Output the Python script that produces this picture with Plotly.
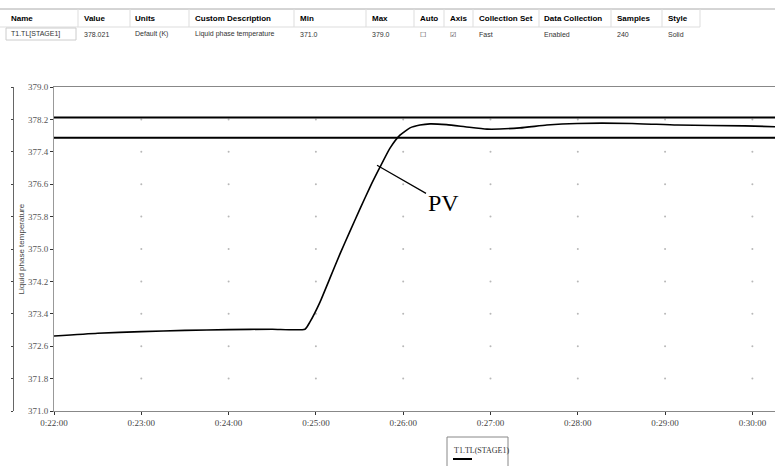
import plotly.graph_objects as go

# ---------------- data ----------------
time_min = [22.0, 22.5, 23.0, 23.5, 24.0, 24.5, 24.875, 24.932, 25.047, 25.161,
            25.276, 25.391, 25.505, 25.620, 25.734, 25.849, 25.963, 26.078, 26.192,
            26.307, 26.498, 26.708, 26.960, 27.338, 27.644, 27.991, 28.621, 29.136,
            29.915, 30.259]
pv_values = [372.85, 372.92, 372.96, 372.99, 373.01, 373.02, 373.02, 373.20, 373.69,
             374.28, 374.88, 375.44, 375.99, 376.53, 377.02, 377.49, 377.81, 377.99,
             378.06, 378.09, 378.07, 378.02, 377.96, 377.99, 378.06, 378.10, 378.10,
             378.06, 378.04, 378.02]
series_name = "T1.TL(STAGE1)"
band_upper = 378.25
band_lower = 377.75

x_tick_vals = [22, 23, 24, 25, 26, 27, 28, 29, 30]
x_tick_text = ["0:22:00", "0:23:00", "0:24:00", "0:25:00", "0:26:00",
               "0:27:00", "0:28:00", "0:29:00", "0:30:00"]
y_tick_vals = [371.0, 371.8, 372.6, 373.4, 374.2, 375.0, 375.8, 376.6, 377.4, 378.2, 379.0]
y_tick_text = ["371.0", "371.8", "372.6", "373.4", "374.2", "375.0",
               "375.8", "376.6", "377.4", "378.2", "379.0"]
x_range = [22.0, 30.259]
y_range = [371.0, 379.0]

table_headers = ["Name", "Value", "Units", "Custom Description", "Min", "Max",
                 "Auto", "Axis", "Collection Set", "Data Collection", "Samples", "Style"]
table_row = ["T1.TL[STAGE1]", "378.021", "Default (K)", "Liquid phase temperature",
             "371.0", "379.0", "☐", "☑", "Fast", "Enabled", "240", "Solid"]
table_col_px = [9, 82, 133, 193, 298, 370, 418, 448, 477, 542, 615, 666]
table_sep_px = [78, 130, 189, 294, 366, 414, 444, 473, 539, 611, 662, 700]

W, H = 775, 466
PLOT_L, PLOT_T, PLOT_B = 54, 87, 411


def px(x):
    return x / W


def py(y):
    return 1 - y / H


fig = go.Figure()

gx, gy = [], []
for xv in x_tick_vals[1:]:
    for yv in y_tick_vals[1:-1]:
        gx.append(xv)
        gy.append(yv)
fig.add_trace(go.Scatter(x=gx, y=gy, mode="markers",
                         marker=dict(size=2, color="#b8b8b8"),
                         hoverinfo="skip", showlegend=False))

fig.add_trace(go.Scatter(x=x_range, y=[band_upper, band_upper], mode="lines",
                         line=dict(color="black", width=2), showlegend=False,
                         hoverinfo="skip"))
fig.add_trace(go.Scatter(x=[x_range[0] - 0.05, x_range[1]], y=[band_lower, band_lower],
                         mode="lines", line=dict(color="black", width=2),
                         showlegend=False, hoverinfo="skip", cliponaxis=False))

fig.add_trace(go.Scatter(x=time_min, y=pv_values, mode="lines",
                         line=dict(color="black", width=1.6, shape="spline", smoothing=0.5),
                         name=series_name, showlegend=False))

fig.add_trace(go.Scatter(x=[None], y=[None], yaxis="y2", showlegend=False))

annotations = []
annotations.append(dict(x=25.70, y=377.07, xref="x", yref="y", text="PV",
                        showarrow=True, arrowhead=0, arrowwidth=1.2, arrowcolor="black",
                        ax=66, ay=38, standoff=0,
                        font=dict(family="Liberation Serif", size=24, color="black")))
annotations.append(dict(x=px(14), y=py((PLOT_T + PLOT_B) / 2), xref="paper", yref="paper",
                        xanchor="left", text="Liquid phase temperature", textangle=-90,
                        showarrow=False,
                        font=dict(family="Liberation Sans", size=8, color="#444")))
for h, r, cx in zip(table_headers, table_row, table_col_px):
    annotations.append(dict(x=px(cx), y=py(18), xref="paper", yref="paper",
                            xanchor="left", yanchor="middle", showarrow=False,
                            text="<b>" + h + "</b>",
                            font=dict(family="Liberation Sans", size=8, color="black")))
    annotations.append(dict(x=px(cx), y=py(34), xref="paper", yref="paper",
                            xanchor="left", yanchor="middle", showarrow=False,
                            text=r,
                            font=dict(family="Liberation Sans", size=7, color="#333")))
# legend (box with series name above a line sample)
annotations.append(dict(x=px(452), y=py(450), xref="paper", yref="paper",
                        xanchor="left", yanchor="middle", showarrow=False,
                        text=series_name,
                        font=dict(family="Liberation Serif", size=8, color="#333")))

shapes = []
shapes.append(dict(type="line", xref="paper", yref="paper", x0=0, x1=1,
                   y0=py(9), y1=py(9), line=dict(color="#aaa", width=1)))
shapes.append(dict(type="line", xref="paper", yref="paper", x0=0, x1=px(700),
                   y0=py(27), y1=py(27), line=dict(color="#ddd", width=1)))
for sx in table_sep_px:
    shapes.append(dict(type="line", xref="paper", yref="paper", x0=px(sx), x1=px(sx),
                       y0=py(9), y1=py(27), line=dict(color="#ddd", width=1)))
shapes.append(dict(type="rect", xref="paper", yref="paper", x0=px(6), x1=px(76),
                   y0=py(28), y1=py(40), line=dict(color="#ccc", width=1)))
shapes.append(dict(type="rect", xref="paper", yref="paper", x0=px(447), x1=px(508),
                   y0=py(437), y1=py(472), line=dict(color="#888", width=1),
                   fillcolor="white"))
shapes.append(dict(type="line", xref="paper", yref="paper", x0=px(453), x1=px(472),
                   y0=py(459), y1=py(459), line=dict(color="black", width=2)))

y_domain = [py(PLOT_B), py(PLOT_T)]

fig.update_layout(
    width=W, height=H,
    margin=dict(l=0, r=0, t=0, b=0, pad=0),
    paper_bgcolor="white", plot_bgcolor="white",
    showlegend=False,
    xaxis=dict(domain=[px(PLOT_L), 1], range=x_range, tickvals=x_tick_vals,
               ticktext=x_tick_text, showgrid=False, zeroline=False,
               showline=True, linecolor="#888", linewidth=1, mirror=True,
               ticks="outside", ticklen=3, tickcolor="#333", automargin=False,
               tickfont=dict(family="Liberation Serif", size=9, color="#444")),
    yaxis=dict(domain=y_domain, range=y_range, tickvals=y_tick_vals, ticktext=y_tick_text,
               showgrid=False, zeroline=False, showline=True, linecolor="#999",
               linewidth=1, ticks="outside", ticklen=3, tickcolor="#333",
               tickfont=dict(family="Liberation Serif", size=9, color="#555"),
               automargin=False),
    yaxis2=dict(domain=y_domain, range=y_range, tickvals=y_tick_vals, overlaying="y",
                anchor="free", position=px(13), side="left", showticklabels=False,
                showgrid=False, zeroline=False, showline=True, linecolor="#666",
                linewidth=1, ticks="outside", ticklen=2, tickcolor="#444",
                automargin=False),
    annotations=annotations,
    shapes=shapes,
)

fig.write_html("out.html", config={"displayModeBar": False},
               post_script="document.body.style.margin='0';")
